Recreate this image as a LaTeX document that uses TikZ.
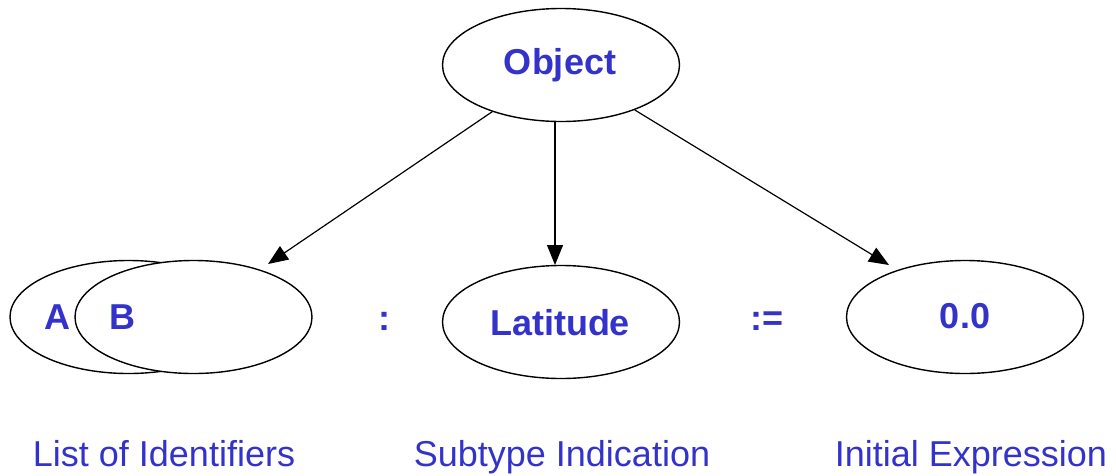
\documentclass[tikz,border=0pt]{standalone}
\usepackage{fontspec}
\setmainfont{Liberation Sans}
\usetikzlibrary{shapes.geometric,arrows.meta}
\definecolor{txtblue}{RGB}{51,51,204}
\tikzset{
  oval/.style={draw=black, fill=white, ellipse, line width=1.4pt, inner sep=0pt,
    minimum width=237pt, minimum height=113pt},
  boldtxt/.style={text=txtblue, font=\fontsize{36}{40}\selectfont\bfseries, anchor=base, inner sep=0pt},
  captxt/.style={text=txtblue, font=\fontsize{36}{40}\selectfont, anchor=base, inner sep=0pt},
  arr/.style={draw=black, line width=1.2pt, -{Triangle[length=20pt,width=16pt]}}
}
\begin{document}
\begin{tikzpicture}[x=1pt,y=-1pt]
\useasboundingbox (0,0) rectangle (1116,475);
% ellipses
\node[oval] (obj) at (561,65) {};
\node[oval] (ea) at (128.5,317) {};
\node[oval] (eb) at (193.5,317) {};
\node[oval] (lat) at (561,322) {};
\node[oval] (init) at (965,317) {};
% texts
\node[boldtxt] (tobj) at (560,74) {Object};
\node[boldtxt] (ta) at (57,329) {A};
\node[boldtxt] (tb) at (122.5,329) {B};
\node[boldtxt] (tlat) at (560,335) {Latitude};
\node[boldtxt] (tinit) at (965,328) {0.0};
\node[boldtxt] (colon) at (384,330) {:};
\node[boldtxt] (assign) at (767,330) {:=};
% captions
\node[captxt] (c1) at (164,466) {List of Identifiers};
\node[captxt] (c2) at (562,466) {Subtype Indication};
\node[captxt] (c3) at (971,466) {Initial Expression};
% arrows
\coordinate (t1) at (268,264);
\coordinate (t2) at (555,265);
\coordinate (t3) at (889,265);
\draw[arr] (obj) -- (t1);
\draw[arr] (obj.south -| t2) -- (t2);
\draw[arr] (obj) -- (t3);
\end{tikzpicture}
\end{document}
